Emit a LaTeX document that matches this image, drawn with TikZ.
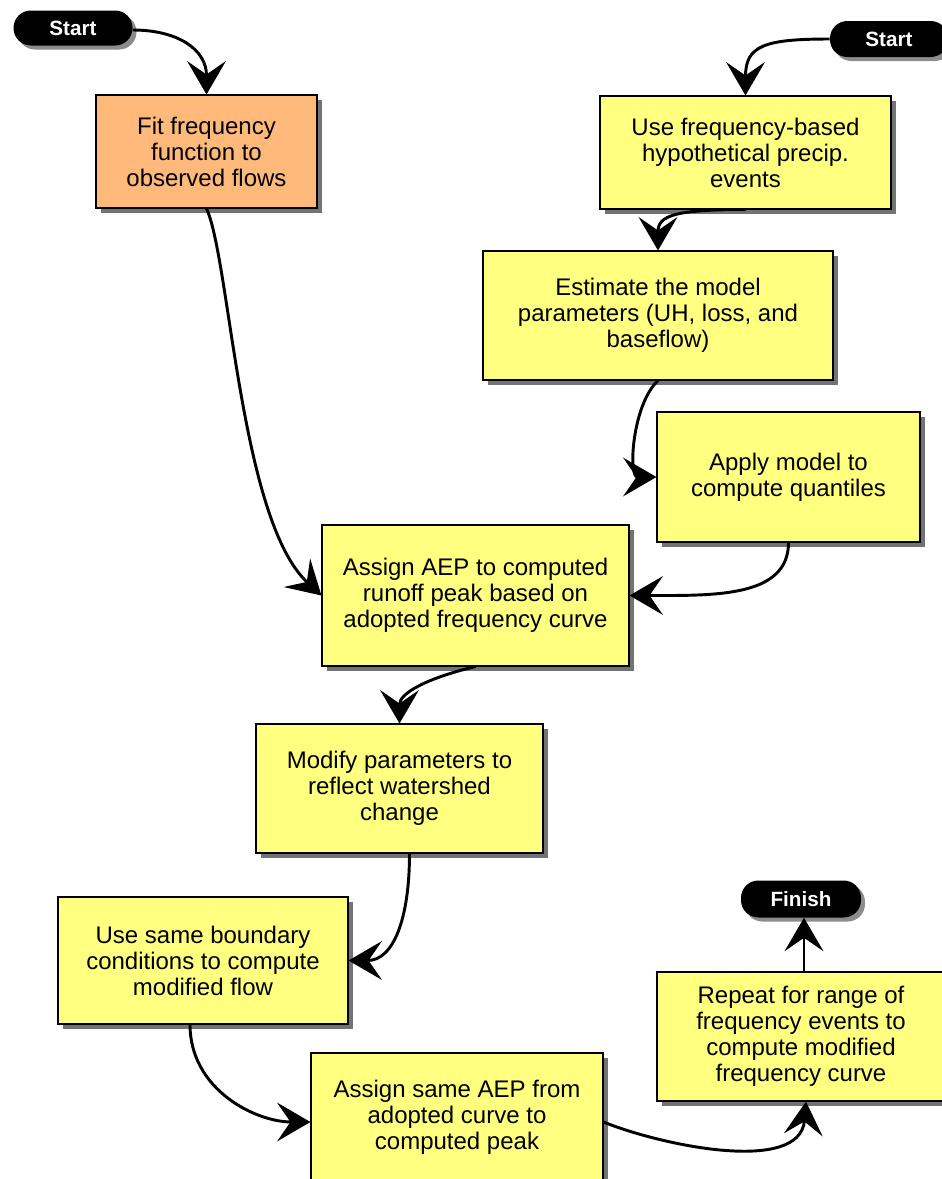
\documentclass[tikz,border=0pt]{standalone}
\usepackage{fontspec}
\setmainfont{Liberation Sans}
\usetikzlibrary{arrows.meta,shadows,calc}
\definecolor{boxyellow}{RGB}{255,255,128}
\definecolor{boxorange}{RGB}{255,185,122}
\tikzset{
  sized/.style 2 args={minimum width=#1*0.75pt, minimum height=#2*0.75pt},
  box/.style={draw=black, line width=0.8pt, fill=boxyellow, align=center,
    font=\fontsize{18}{19.5}\selectfont, inner sep=0pt,
    drop shadow={shadow xshift=3.5pt, shadow yshift=-3.5pt, fill=black, opacity=0.55}},
  pill/.style={fill=black, text=white, rounded corners=13pt, inner sep=0pt,
    font=\fontsize{15.5}{16}\selectfont\bfseries,
    drop shadow={shadow xshift=3pt, shadow yshift=-3pt, fill=black, opacity=0.45}},
  conn/.style={line width=2.2pt, -{Stealth[length=25pt,width=29pt,inset=10pt]}},
}
\begin{document}
\begin{tikzpicture}[x=0.75pt,y=-0.75pt]
\useasboundingbox (0,0) rectangle (942,1179);
% terminals
\node[pill, sized={119}{35}] (s1) at (73,28) {Start};
\node[pill, sized={118}{36}] (s2) at (889,39) {Start};
\node[pill, sized={120}{37}] (fin) at (801,899) {Finish};
% process boxes
\node[box, fill=boxorange, sized={221}{113}] (fit) at (206.5,151.5) {Fit frequency\\function to\\observed flows};
\node[box, sized={291}{113}] (use) at (745.5,152.5) {Use frequency-based\\hypothetical precip.\\events};
\node[box, sized={350}{129}] (est) at (658,315.5) {Estimate the model\\parameters (UH, loss, and\\baseflow)};
\node[box, sized={263}{130}] (apply) at (788.5,477) {Apply model to\\compute quantiles};
\node[box, sized={307}{141}] (aep) at (475.5,595.5) {Assign AEP to computed\\runoff peak based on\\adopted frequency curve};
\node[box, sized={287}{129}] (mod) at (399.5,788.5) {Modify parameters to\\reflect watershed\\change};
\node[box, sized={290}{127}] (usb) at (203,960.5) {Use same boundary\\conditions to compute\\modified flow};
\node[box, sized={292}{128}] (asa) at (457,1117) {Assign same AEP from\\adopted curve to\\computed peak};
\node[box, sized={288}{129}] (rep) at (801,1036.5) {Repeat for range of\\frequency events to\\compute modified\\frequency curve};
% connectors
\draw[conn] ($(s1.east)+(0,2)$) .. controls +(45,0) and +(0,-45) .. (fit.north);
\draw[conn] (s2.west) .. controls +(-65,0) and +(0,-50) .. (use.north);
\draw[conn] (use.south) .. controls +(-70,0) and +(0,-35) .. (est.north);
\draw[conn] (est.south) .. controls (632,405) and (628,477) .. (apply.west);
\draw[conn] (apply.south) .. controls +(0,55) and +(85,0) .. (aep.east);
\draw[conn] (fit.south) .. controls (230,260) and (240,520) .. (aep.west);
\draw[conn] (aep.south) .. controls +(-50,12) and +(0,-30) .. (mod.north);
\draw[conn] ($(mod.south)+(10,0)$) .. controls +(0,65) and +(45,0) .. (usb.east);
\draw[conn] ($(usb.south)+(-13,0)$) .. controls +(0,65) and +(-55,0) .. ($(asa.west)+(0,5)$);
\draw[conn] ($(asa.east)+(0,5)$) .. controls (660,1145) and (800,1175) .. ($(rep.south)+(5,0)$);
\draw[conn] ($(rep.north)+(3,0)$) -- ($(fin.south)+(3,0)$);
\end{tikzpicture}
\end{document}
